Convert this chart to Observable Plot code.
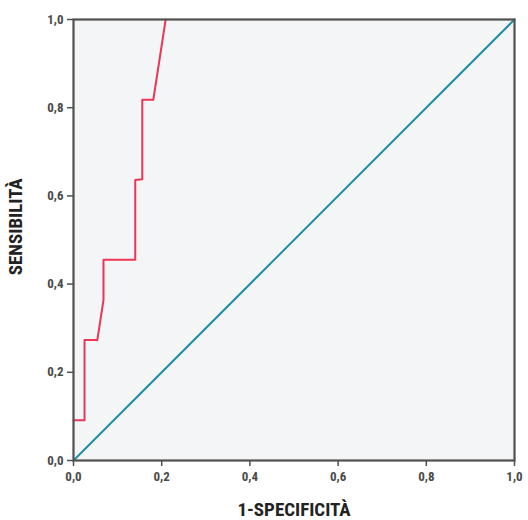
<!DOCTYPE html>
<html><head><meta charset="utf-8">
<script src="https://cdn.jsdelivr.net/npm/d3@7"></script>
<script src="https://cdn.jsdelivr.net/npm/@observablehq/plot@0.6"></script>
<style>
body{margin:0;background:#fff;}
#c{position:relative;width:528px;height:520px;}
</style>
</head><body><div id="c"></div>
<script>
const fpr = [0, 0.025, 0.025, 0.054, 0.068, 0.068, 0.14, 0.14, 0.156, 0.156, 0.181, 0.209];
const tpr = [0.091, 0.091, 0.273, 0.273, 0.364, 0.455, 0.455, 0.636, 0.638, 0.818, 0.818, 1.0];
const refX = [0, 1];
const refY = [0, 1];
const ticks = [0, 0.2, 0.4, 0.6, 0.8, 1.0];
const xTitle = "1-SPECIFICITÀ";
const yTitle = "SENSIBILITÀ";

const roc = fpr.map((x, i) => ({x, y: tpr[i]}));
const ref = refX.map((x, i) => ({x, y: refY[i]}));
const fmt = d => d.toFixed(1).replace(".", ",");
const font = "'Roboto Condensed','DejaVu Sans Condensed','Liberation Sans Narrow',Roboto,sans-serif";

const chart = Plot.plot({
  width: 528, height: 520,
  marginLeft: 73, marginRight: 14, marginTop: 19, marginBottom: 60,
  style: {fontFamily: font, fontSize: "13px", color: "#444", background: "#fff", overflow: "visible"},
  x: {domain: [0, 1], ticks, tickFormat: fmt, label: null},
  y: {domain: [0, 1], ticks, tickFormat: fmt, label: null},
  marks: [
    Plot.rect([0], {x1: 0, x2: 1, y1: 0, y2: 1, fill: "#f4f5f7"}),
    Plot.line(ref, {x: "x", y: "y", stroke: "#1f8fa3", strokeWidth: 2}),
    Plot.line(roc, {x: "x", y: "y", stroke: "#ec3656", strokeWidth: 2}),
    Plot.frame({stroke: "#505050", strokeWidth: 2.2}),
    Plot.axisX({ticks, tickFormat: fmt, label: null, tickSize: 6, tickPadding: 5, stroke: "#505050", strokeWidth: 1.5, fontWeight: "bold", fontSize: 13, fill: "#4a4a4a"}),
    Plot.axisY({ticks, tickFormat: fmt, label: null, tickSize: 6, tickPadding: 4, stroke: "#505050", strokeWidth: 1.5, fontWeight: "bold", fontSize: 13, fill: "#4a4a4a"}),
    Plot.text([xTitle], {x: 0.5, y: -0.113, text: d => d, fontWeight: "bold", fontSize: 19, fill: "#222"}),
    Plot.text([yTitle], {x: -0.13, y: 0.53, rotate: -90, text: d => d, fontWeight: "bold", fontSize: 19, fill: "#222"})
  ]
});
document.getElementById("c").appendChild(chart);
</script>
</body></html>
